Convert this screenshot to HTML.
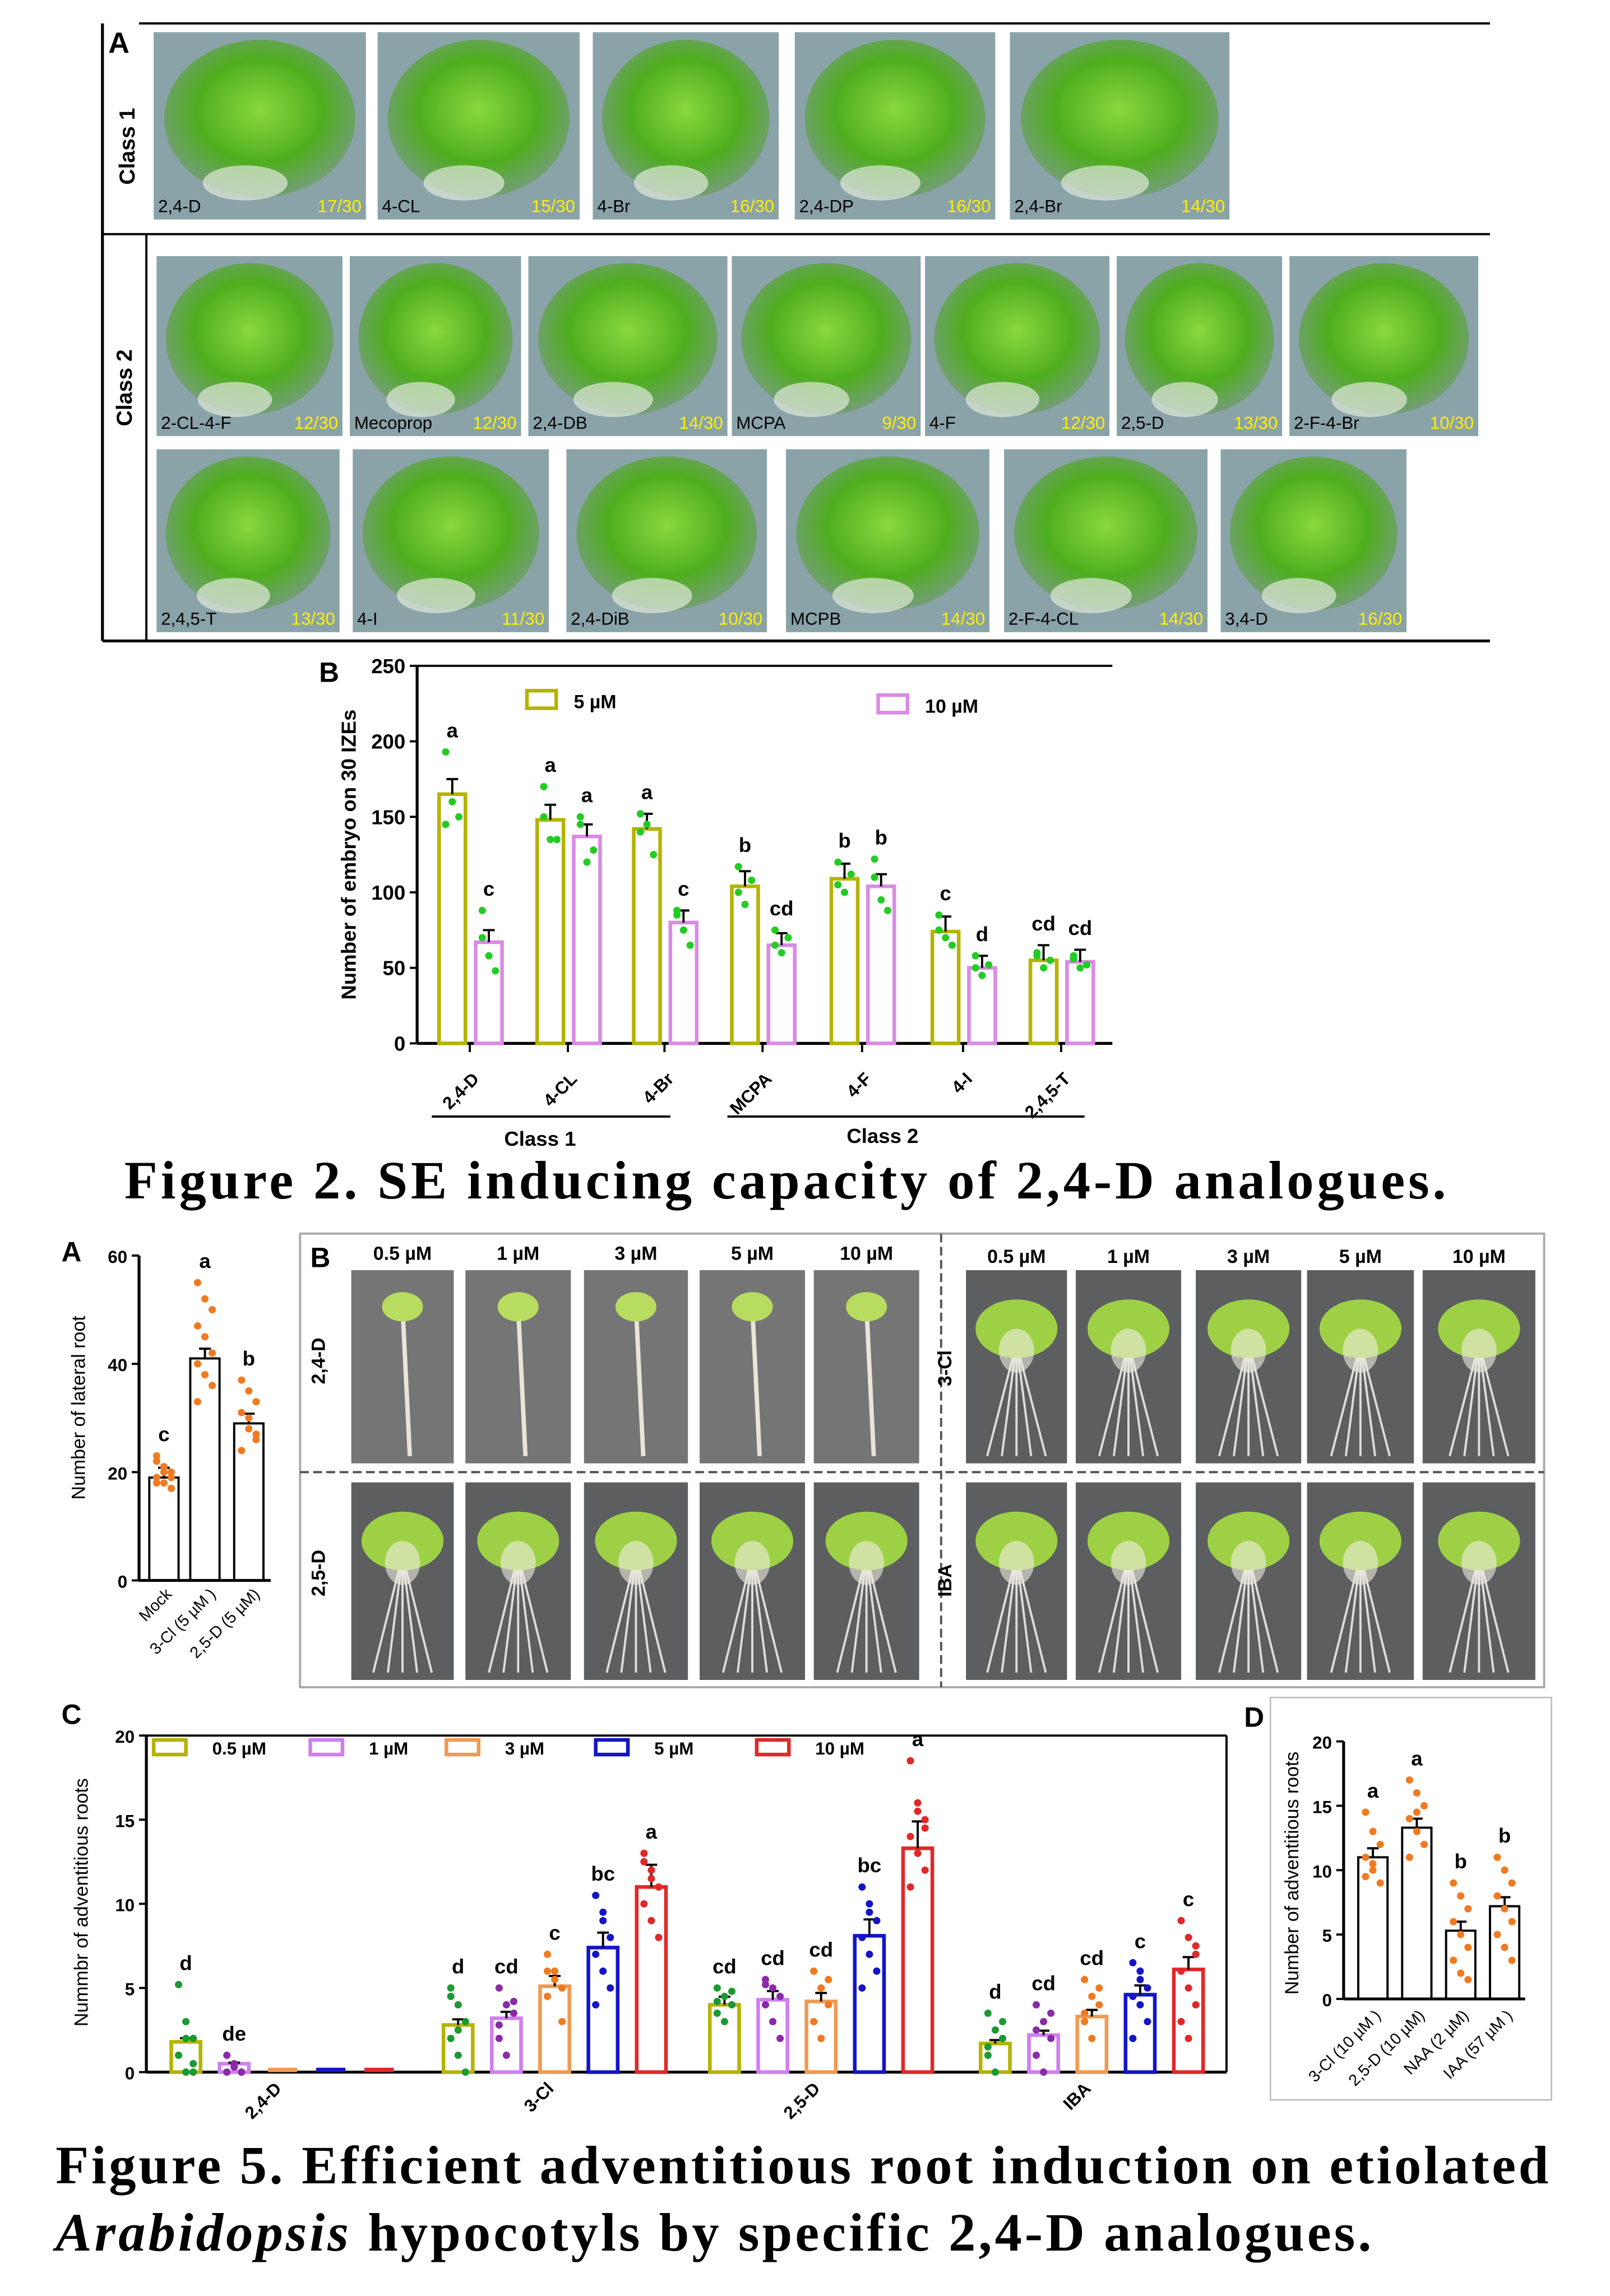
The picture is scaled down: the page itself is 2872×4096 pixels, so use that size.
<!DOCTYPE html>
<html><head><meta charset="utf-8"><style>
html,body{margin:0;padding:0;background:#fff}
svg{display:block}
text{font-family:"Liberation Sans",sans-serif}
text.t{font-family:"Liberation Serif",serif;font-weight:bold}
</style></head><body>
<svg id="s" width="2872" height="4096" viewBox="0 0 1100 1569" preserveAspectRatio="none" xmlns="http://www.w3.org/2000/svg">
<defs>
<radialGradient id="g1" cx="50%" cy="45%" r="60%"><stop offset="0" stop-color="#8ad83e"/><stop offset="0.55" stop-color="#4fae1e"/><stop offset="1" stop-color="#7c9a8c"/></radialGradient>
</defs>
<g id="root"></g>
</svg>
<script>
const NS="http://www.w3.org/2000/svg",R=document.getElementById('root');
function el(t,a,txt){const e=document.createElementNS(NS,t);for(const k in a)e.setAttribute(k,a[k]);if(txt!==undefined)e.textContent=txt;R.appendChild(e);return e;}
function line(x1,y1,x2,y2,w,c,d){el('line',{x1,y1,x2,y2,stroke:c||'#000','stroke-width':w||1.5,'stroke-dasharray':d||''});}
function txt(x,y,s,sz,o){o=o||{};return el('text',Object.assign({x,y,'font-size':sz,fill:'#000'},o),s);}
// Figure 2 A
line(95,16,1018,16,1.5);line(70,16,70,438,2);line(70,160,1018,160,1.5);line(70,438,1018,438,2);line(100,160,100,438,1.5);
txt(74,36,'A',20,{'font-weight':'bold'});
txt(92,100,'Class 1',15,{'font-weight':'bold',transform:'rotate(-90 92 100)','text-anchor':'middle'});
txt(90,265,'Class 2',15,{'font-weight':'bold',transform:'rotate(-90 90 265)','text-anchor':'middle'});
function photo(x1,y1,x2,y2,lab,cnt){el('rect',{x:x1,y:y1,width:x2-x1,height:y2-y1,fill:'#8aa3a8'});
el('ellipse',{cx:(x1+x2)/2,cy:(y1+y2)/2-5,rx:(x2-x1)*0.45,ry:(y2-y1)*0.42,fill:'url(#g1)'});
el('ellipse',{cx:(x1+x2)/2-10,cy:y2-25,rx:(x2-x1)*0.2,ry:12,fill:'#dfe8d8',opacity:0.7});
txt(x1+3,y2-5,lab,12,{fill:'#000'});txt(x2-3,y2-5,cnt,12,{fill:'#ffef00','text-anchor':'end'});}
[[105,250,'2,4-D','17/30'],[258,396,'4-CL','15/30'],[405,532,'4-Br','16/30'],[543,680,'2,4-DP','16/30'],[690,840,'2,4-Br','14/30']].forEach(p=>photo(p[0],22,p[1],150,p[2],p[3]));
[[107,234,'2-CL-4-F','12/30'],[239,356,'Mecoprop','12/30'],[361,497,'2,4-DB','14/30'],[500,629,'MCPA','9/30'],[632,758,'4-F','12/30'],[763,876,'2,5-D','13/30'],[881,1010,'2-F-4-Br','10/30']].forEach(p=>photo(p[0],175,p[1],298,p[2],p[3]));
[[107,232,'2,4,5-T','13/30'],[241,375,'4-I','11/30'],[387,524,'2,4-DiB','10/30'],[537,676,'MCPB','14/30'],[686,825,'2-F-4-CL','14/30'],[834,961,'3,4-D','16/30']].forEach(p=>photo(p[0],307,p[1],432,p[2],p[3]));
// Figure 2 B
const OL='#b5b300',PK='#d98be3',GR='#22cc22';
function chart(ax,y0,ytop,vmax,ticks,xend,tickfs){line(ax,ytop,ax,y0,2);line(ax,y0,xend,y0,2);
ticks.forEach(v=>{const y=y0-(y0-ytop)*v/vmax;line(ax-5,y,ax,y,1.5);txt(ax-8,y+5,String(v),tickfs,{'text-anchor':'end','font-weight':'bold'});});}
function bar(x,w,v,y0,sc,col,err,lab,dots,dcol,sw){const h=v*sc;el('rect',{x,y:y0-h,width:w,height:h,fill:'none',stroke:col,'stroke-width':sw||2.5});
const e=err*sc;line(x+w/2,y0-h,x+w/2,y0-h-e,1.5);line(x+w/2-4,y0-h-e,x+w/2+4,y0-h-e,1.5);
dots.forEach((d,i)=>el('circle',{cx:x+w/2+((i%3)-1)*w*0.25,cy:y0-d*sc,r:2.5,fill:dcol}));
if(lab)txt(x+w/2,y0-Math.max(h+e,Math.max(...dots)*sc)-10,lab,14,{'text-anchor':'middle','font-weight':'bold'});}
chart(285,713,455,250,[0,50,100,150,200,250],760,14);line(285,455,760,455,1.5);
txt(218,466,'B',19,{'font-weight':'bold'});
txt(243,584,'Number of embryo on 30 IZEs',14,{'font-weight':'bold',transform:'rotate(-90 243 584)','text-anchor':'middle'});
el('rect',{x:360,y:472,width:20,height:12,fill:'none',stroke:OL,'stroke-width':2.5});txt(392,484,'5 µM',13,{'font-weight':'bold'});
el('rect',{x:600,y:475,width:20,height:12,fill:'none',stroke:PK,'stroke-width':2.5});txt(632,487,'10 µM',13,{'font-weight':'bold'});
const sc=258/250;
const B=[['2,4-D',300,165,67,'a','c',[193,160,150,145],[88,58,48,70]],['4-CL',367,148,137,'a','a',[170,135,135,150],[150,120,128,145]],['4-Br',433,142,80,'a','c',[152,145,125,140],[88,75,65,85]],['MCPA',500,104,65,'b','cd',[117,92,108,100],[75,60,70,65]],['4-F',568,109,104,'b','b',[120,100,112,105],[122,95,88,110]],['4-I',637,74,50,'c','d',[85,70,65,75],[58,45,52,50]],['2,4,5-T',704,55,54,'cd','cd',[60,50,55,58],[58,50,52,56]]];
B.forEach(g=>{bar(g[1],18,g[2],713,sc,OL,10,g[4],g[6],GR);bar(g[1]+25,18,g[3],713,sc,PK,8,g[5],g[7],GR);
line(g[1]+21,713,g[1]+21,719,1.5);
txt(g[1]+28,738,g[0],12,{'font-weight':'bold','text-anchor':'end',transform:`rotate(-45 ${g[1]+28} 738)`});});
line(295,763,458,763,1.5);line(497,763,741,763,1.5);
txt(369,783,'Class 1',14,{'font-weight':'bold','text-anchor':'middle'});txt(603,781,'Class 2',14,{'font-weight':'bold','text-anchor':'middle'});
txt(85,819,'Figure 2. SE inducing capacity of  2,4-D analogues.',37,{class:'t',textLength:903,lengthAdjust:'spacing'});
// Figure 5 A
const OR='#f07a20';
chart(95,1080,858,60,[0,20,40,60],185,12);
txt(42,862,'A',19,{'font-weight':'bold'});
txt(58,962,'Number of lateral root',13,{transform:'rotate(-90 58 962)','text-anchor':'middle'});
const sA=222/60;
[[102,19,'c',[23,21,20,19,18,17,22,20,19,18]],[130,41,'a',[55,52,50,47,45,42,40,38,36,33]],[160,29,'b',[37,35,33,31,28,26,24,30,27]]].forEach(a=>bar(a[0],20,a[1],1080,sA,'#000',1.8,a[2],a[3],OR,1.5));
['Mock','3-Cl (5 µM )','2,5-D (5 µM)'].forEach((s,i)=>{const x=118+i*30;txt(x,1090,s,11,{'text-anchor':'end',transform:`rotate(-45 ${x} 1090)`});});
// Figure 5 B
el('rect',{x:205,y:843,width:850,height:310,fill:'none',stroke:'#aaa','stroke-width':1.5});
line(643,843,643,1153,1.5,'#555','6 3');line(205,1006,1055,1006,1.5,'#555','6 3');
txt(212,866,'B',19,{'font-weight':'bold'});
function seed(x1,y1,x2,y2,type){el('rect',{x:x1,y:y1,width:x2-x1,height:y2-y1,fill:type==0?'#757575':'#5c5e60'});
const cx=(x1+x2)/2;if(type==0){line(cx,y1+25,cx+5,y2-5,3,'#e8e4d8');el('ellipse',{cx,cy:y1+25,rx:14,ry:10,fill:'#b8dc60'});}
else{for(let i=-2;i<=2;i++)line(cx,y1+50,cx+i*10,y2-5,1.5,'#ddd');el('ellipse',{cx,cy:y1+40,rx:28,ry:20,fill:'#9ed046'});el('ellipse',{cx:cx,cy:y1+55,rx:12,ry:15,fill:'#f0eee0',opacity:0.6});}}
const LC=[[240,310],[318,390],[399,470],[478,550],[556,628]],RC=[[660,729],[735,807],[817,889],[893,966],[972,1049]];
const conc=['0.5 µM','1 µM','3 µM','5 µM','10 µM'];
LC.forEach((c,i)=>{seed(c[0],868,c[1],1000,0);seed(c[0],1013,c[1],1148,1);txt((c[0]+c[1])/2,861,conc[i],13,{'text-anchor':'middle','font-weight':'bold'});});
RC.forEach((c,i)=>{seed(c[0],868,c[1],1000,1);seed(c[0],1013,c[1],1148,1);txt((c[0]+c[1])/2,863,conc[i],13,{'text-anchor':'middle','font-weight':'bold'});});
[['2,4-D',222,930],['2,5-D',222,1075],['3-Cl',650,935],['IBA',650,1080]].forEach(l=>txt(l[1],l[2],l[0],13,{'font-weight':'bold',transform:`rotate(-90 ${l[1]} ${l[2]})`,'text-anchor':'middle'}));
// Figure 5 C
const CL=['#b5b300','#d07ef0','#f09a50','#1414c8','#e02828'],DC=['#1a9a30','#8a2aa8','#f07a20','#1414c8','#e02828'];
chart(100,1416,1186,20,[0,5,10,15,20],838,12);line(100,1186,838,1186,1.5);line(838,1186,838,1416,1.5);
txt(42,1178,'C',19,{'font-weight':'bold'});
txt(60,1300,'Nummbr of adventitious roots',13,{transform:'rotate(-90 60 1300)','text-anchor':'middle'});
const lx=[105,212,305,407,517];conc.forEach((c,i)=>{el('rect',{x:lx[i],y:1189,width:22,height:10,fill:'none',stroke:CL[i],'stroke-width':2.5});txt(lx[i]+40,1199,c,12,{'font-weight':'bold'});});
const sC=230/20;
const C=[['2,4-D',117,[1.8,0.5,0,0,0],['d','de','','',''],[[5.2,3,2,1,0,0,1,2,0.5],[1,0.5,0,0,0.3,0],[0],[0],[0]]],
['3-Cl',303,[2.8,3.2,5.1,7.4,11],['d','cd','c','bc','a'],[[5,4,3,2,1,0,4.5,2.5],[5,4,3.5,2,1,4.2,2.8],[7,6,5,4.5,5.5,3,6],[10.5,9,8,7,6,5,4,9.5],[13,12,11,10,9,8,12.5,11.5]]],
['2,5-D',485,[4,4.3,4.2,8.1,13.3],['cd','cd','cd','bc','a'],[[5,4.5,4,3.5,3,4.8,4.2],[5.5,5,4.5,4,3,2,5.2],[6,5,4,3,2,5.5],[11,10,9,8,7,6,5,9.5],[18.5,16,15,14,13,12,11,15.5,14.5]]],
['IBA',670,[1.7,2.2,3.3,4.6,6.1],['d','cd','cd','c','c'],[[3.5,2.5,2,1,0,3,1.5],[4,3,2,1,0,3.5,2.5],[5.5,4.5,4,3,2,5,3.5],[6.5,6,5,4.5,4,3,2,5.5],[9,8,7,6,5,4,3,2,7.5]]]];
C.forEach(g=>{g[2].forEach((v,i)=>{if(v===0){el('rect',{x:g[1]+i*33,y:1413,width:20,height:3,fill:CL[i]});}else bar(g[1]+i*33,20,v,1416,sC,CL[i],v*0.12,g[3][i],g[4][i],DC[i],2.5);});
const mx=g[1]+76;txt(mx,1428,g[0],12,{'font-weight':'bold','text-anchor':'end',transform:`rotate(-45 ${mx} 1428)`});});
// Figure 5 D
el('rect',{x:868,y:1160,width:192,height:275,fill:'none',stroke:'#bbb','stroke-width':1});
chart(918,1366,1190,20,[0,5,10,15,20],1042,12);
txt(850,1180,'D',19,{'font-weight':'bold'});
txt(887,1280,'Number of adventitious roots',13,{transform:'rotate(-90 887 1280)','text-anchor':'middle'});
const sD=176/20;
[[928,11,'a',[14.5,13,12,11,10,9,9.5,10.5]],[958,13.3,'a',[17,16,15,14,13,12,11,14.5]],[988,5.3,'b',[9,8,7,6,5,4,3,2,1.5]],[1018,7.2,'b',[11,10,9,8,7,6,5,4,3]]].forEach(a=>bar(a[0],20,a[1],1366,sD,'#000',0.7,a[2],a[3],OR,1.5));
['3-Cl (10 µM )','2,5-D (10 µM)','NAA (2 µM)','IAA (57 µM )'].forEach((s,i)=>{const x=944+i*30;txt(x,1378,s,11,{'text-anchor':'end',transform:`rotate(-45 ${x} 1378)`});});
// Figure 5 title
txt(38,1492,'Figure 5. Efficient adventitious root induction on etiolated',37,{class:'t',textLength:1020,lengthAdjust:'spacing'});
const t2=txt(38,1538,'',37,{class:'t',textLength:899,lengthAdjust:'spacing'});
const it=document.createElementNS(NS,'tspan');it.setAttribute('font-style','italic');it.textContent='Arabidopsis';t2.appendChild(it);
const rs=document.createElementNS(NS,'tspan');rs.textContent=' hypocotyls by specific 2,4-D analogues.';t2.appendChild(rs);
</script>
</body></html>
